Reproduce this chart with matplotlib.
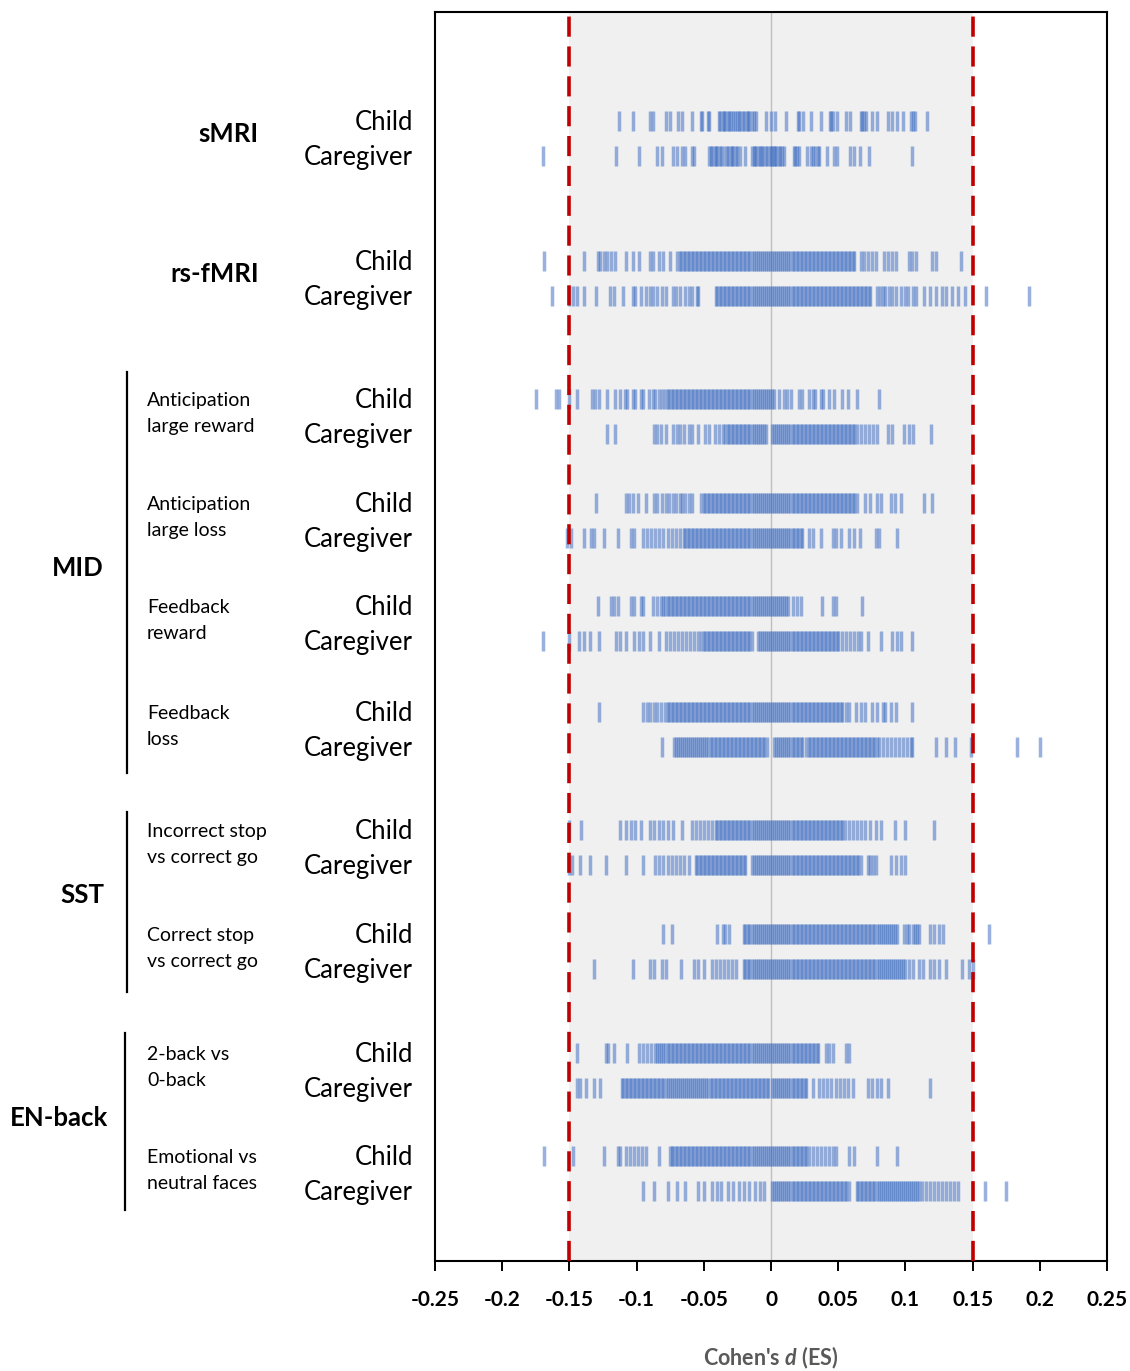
import matplotlib
matplotlib.use("Agg")
import matplotlib.pyplot as plt
from matplotlib.lines import Line2D

plt.rcParams['font.family'] = ['Lato', 'DejaVu Sans']
plt.rcParams['mathtext.fontset'] = 'custom'
plt.rcParams['mathtext.it'] = 'Lato:italic:bold'
plt.rcParams['mathtext.rm'] = 'Lato:bold'
plt.rcParams['lines.scale_dashes'] = False

# ---------------- data ----------------
modalities = ["sMRI", "rs-fMRI", "MID", "SST", "EN-back"]
contrasts = ["", "", "Anticipation\nlarge reward", "Anticipation\nlarge loss",
             "Feedback\nreward", "Feedback\nloss",
             "Incorrect stop\nvs correct go", "Correct stop\nvs correct go",
             "2-back vs\n0-back", "Emotional vs\nneutral faces"]
groups = ["Child", "Caregiver"]
threshold = [-0.15, 0.15]
xticks = [-0.25, -0.2, -0.15, -0.1, -0.05, 0, 0.05, 0.1, 0.15, 0.2, 0.25]
xtick_labels = ["-0.25", "-0.2", "-0.15", "-0.1", "-0.05", "0", "0.05", "0.1", "0.15", "0.2", "0.25"]

smri_child = [-0.113, -0.103, -0.090, -0.088, -0.078, -0.075, -0.069, -0.066, -0.059, -0.052, -0.051,
              -0.047, -0.046, -0.039, -0.038, -0.036, -0.035, -0.034, -0.032, -0.031, -0.030, -0.028,
              -0.027, -0.025, -0.024, -0.023, -0.021, -0.020, -0.018, -0.017, -0.016, -0.014, -0.013,
              -0.011, -0.004, 0.000, 0.003, 0.011, 0.020, 0.021, 0.024, 0.030, 0.037, 0.044, 0.045,
              0.046, 0.049, 0.056, 0.059, 0.067, 0.068, 0.069, 0.071, 0.075, 0.079, 0.087, 0.090,
              0.094, 0.098, 0.104, 0.106, 0.107, 0.116]
smri_caregiver = [-0.170, -0.115, -0.098, -0.085, -0.081, -0.073, -0.070, -0.066, -0.064, -0.059, -0.057,
                  -0.046, -0.045, -0.044, -0.042, -0.041, -0.040, -0.038, -0.037, -0.035, -0.033, -0.032,
                  -0.030, -0.029, -0.028, -0.026, -0.025, -0.023, -0.019, -0.014, -0.013, -0.012, -0.011,
                  -0.009, -0.008, -0.007, -0.006, -0.004, -0.003, -0.001, 0.000, 0.001, 0.002, 0.003,
                  0.004, 0.006, 0.007, 0.008, 0.010, 0.017, 0.018, 0.019, 0.021, 0.027, 0.030, 0.031,
                  0.033, 0.035, 0.036, 0.042, 0.047, 0.049, 0.059, 0.062, 0.066, 0.073, 0.105]
rsfmri_child = [-0.169, -0.139, -0.129, -0.127, -0.124, -0.122, -0.119, -0.116, -0.108, -0.103, -0.098,
                -0.090, -0.088, -0.083, -0.080, -0.075,
                -0.070, -0.068, -0.067, -0.065, -0.064, -0.062, -0.061, -0.059, -0.058, -0.056, -0.055,
                -0.053, -0.052, -0.050, -0.049, -0.047, -0.046, -0.044, -0.043, -0.041, -0.040, -0.038,
                -0.037, -0.035, -0.034, -0.032, -0.031, -0.029, -0.028, -0.026, -0.025, -0.023, -0.022,
                -0.020, -0.019, -0.017, -0.016, -0.014, -0.013, -0.011, -0.010, -0.008, -0.007, -0.005,
                -0.004, -0.002, -0.001, 0.001, 0.002, 0.004, 0.005, 0.007, 0.008, 0.010, 0.011, 0.013,
                0.014, 0.016, 0.017, 0.019, 0.020, 0.022, 0.023, 0.025, 0.026, 0.028, 0.029, 0.031,
                0.032, 0.034, 0.035, 0.037, 0.038, 0.040, 0.041, 0.043, 0.044, 0.046, 0.047, 0.049,
                0.050, 0.052, 0.053, 0.055, 0.056, 0.058, 0.059, 0.061, 0.062,
                0.067, 0.069, 0.072, 0.075, 0.078, 0.084, 0.087, 0.090, 0.093, 0.103, 0.105, 0.108,
                0.120, 0.123, 0.141]
rsfmri_caregiver = [-0.163, -0.150, -0.147, -0.144, -0.139, -0.130, -0.120, -0.117, -0.110, -0.103, -0.101,
                    -0.097, -0.093, -0.090, -0.088, -0.085, -0.081, -0.078, -0.073, -0.071, -0.068, -0.064,
                    -0.061, -0.059, -0.055, -0.054,
                    -0.041, -0.040, -0.038, -0.037, -0.035, -0.034, -0.032, -0.031, -0.029, -0.028, -0.026,
                    -0.025, -0.023, -0.022, -0.020, -0.019, -0.017, -0.016, -0.014, -0.013, -0.011, -0.010,
                    -0.008, -0.007, -0.005, -0.004, -0.002, -0.001, 0.001, 0.002, 0.004, 0.005, 0.007,
                    0.008, 0.010, 0.011, 0.013, 0.014, 0.016, 0.017, 0.019, 0.020, 0.022, 0.023, 0.025,
                    0.026, 0.028, 0.029, 0.031, 0.032, 0.034, 0.035, 0.037, 0.038, 0.040, 0.041, 0.043,
                    0.044, 0.046, 0.047, 0.049, 0.050, 0.052, 0.053, 0.055, 0.056, 0.058, 0.059, 0.061,
                    0.062, 0.064, 0.065, 0.067, 0.068, 0.070, 0.071, 0.073, 0.074,
                    0.079, 0.081, 0.083, 0.085, 0.088, 0.090, 0.093, 0.097, 0.100, 0.102, 0.106, 0.108,
                    0.114, 0.118, 0.123, 0.127, 0.130, 0.135, 0.139, 0.144, 0.160, 0.192]
antrew_child = [-0.175, -0.160, -0.158, -0.150, -0.144, -0.133, -0.131, -0.128, -0.122, -0.116, -0.112,
                -0.109, -0.107, -0.103, -0.101, -0.097, -0.095, -0.091, -0.088, -0.086, -0.083, -0.081,
                -0.079, -0.077, -0.076, -0.074, -0.073, -0.071, -0.070, -0.068, -0.067, -0.065, -0.064,
                -0.062, -0.061, -0.059, -0.058, -0.056, -0.055, -0.053, -0.052, -0.050, -0.049, -0.047,
                -0.046, -0.044, -0.043, -0.041, -0.040, -0.038, -0.037, -0.035, -0.034, -0.032, -0.031,
                -0.029, -0.028, -0.026, -0.025, -0.023, -0.022, -0.020, -0.019, -0.017, -0.016, -0.014,
                -0.013, -0.011, -0.010, -0.008, -0.007, -0.005, -0.004, -0.002, -0.001, 0.001, 0.002,
                0.006, 0.010, 0.012, 0.015, 0.021, 0.023, 0.028, 0.031, 0.033, 0.037, 0.039, 0.043,
                0.047, 0.053, 0.057, 0.064, 0.080]
antrew_caregiver = [-0.122, -0.116, -0.087, -0.085, -0.082, -0.078, -0.073, -0.070, -0.068, -0.065, -0.061,
                    -0.059, -0.054, -0.049, -0.046, -0.042, -0.039, -0.036, -0.034,
                    -0.032, -0.031, -0.029, -0.028, -0.026, -0.025, -0.023, -0.022, -0.020, -0.019, -0.017,
                    -0.016, -0.014, -0.013, -0.011, -0.010, -0.008, -0.007, -0.005, -0.004,
                    0.001, 0.002, 0.004, 0.005, 0.007, 0.008, 0.010, 0.011, 0.013, 0.014, 0.016, 0.017,
                    0.019, 0.020, 0.022, 0.023, 0.025, 0.026, 0.028, 0.029, 0.031, 0.032, 0.034, 0.035,
                    0.037, 0.038, 0.040, 0.041, 0.043, 0.044, 0.046, 0.047, 0.049, 0.050, 0.052, 0.053,
                    0.055, 0.056, 0.058, 0.059, 0.061, 0.062, 0.064, 0.067, 0.070, 0.073, 0.076, 0.079,
                    0.087, 0.090, 0.099, 0.103, 0.106, 0.119]
antloss_child = [-0.130, -0.108, -0.106, -0.103, -0.099, -0.093, -0.087, -0.085, -0.081, -0.078, -0.076,
                 -0.073, -0.071, -0.068, -0.066, -0.064, -0.061, -0.059,
                 -0.052, -0.050, -0.049, -0.047, -0.046, -0.044, -0.043, -0.041, -0.040, -0.038, -0.037,
                 -0.035, -0.034, -0.032, -0.031, -0.029, -0.028, -0.026, -0.025, -0.023, -0.022, -0.020,
                 -0.019, -0.017, -0.016, -0.014, -0.013, -0.011, -0.010, -0.008, -0.007, -0.005, -0.004,
                 -0.002, -0.001, 0.001, 0.002, 0.004, 0.005, 0.007, 0.008, 0.010, 0.011, 0.013, 0.014,
                 0.016, 0.017, 0.019, 0.020, 0.022, 0.023, 0.025, 0.026, 0.028, 0.029, 0.031, 0.032,
                 0.034, 0.035, 0.037, 0.038, 0.040, 0.041, 0.043, 0.044, 0.046, 0.047, 0.049, 0.050,
                 0.052, 0.053, 0.055, 0.056, 0.058, 0.059, 0.061, 0.062, 0.064,
                 0.070, 0.074, 0.079, 0.082, 0.089, 0.092, 0.097, 0.114, 0.120]
antloss_caregiver = [-0.152, -0.149, -0.139, -0.134, -0.132, -0.124, -0.114, -0.104, -0.102,
                     -0.095, -0.092, -0.089, -0.086, -0.083, -0.080, -0.077, -0.074, -0.071, -0.068,
                     -0.065, -0.064, -0.062, -0.061, -0.059, -0.058, -0.056, -0.055, -0.053, -0.052, -0.050,
                     -0.049, -0.047, -0.046, -0.044, -0.043, -0.041, -0.040, -0.038, -0.037, -0.035, -0.034,
                     -0.032, -0.031, -0.029, -0.028, -0.026, -0.025, -0.023, -0.022, -0.020, -0.019, -0.017,
                     -0.016, -0.014, -0.013, -0.011, -0.010, -0.008, -0.007, -0.005, -0.004, -0.002, -0.001,
                     0.001, 0.002, 0.004, 0.005, 0.007, 0.008, 0.010, 0.011, 0.013, 0.014, 0.016, 0.017,
                     0.019, 0.020, 0.022, 0.023,
                     0.028, 0.031, 0.037, 0.046, 0.048, 0.052, 0.058, 0.062, 0.066, 0.078, 0.080, 0.094]
fbrew_child = [-0.129, -0.119, -0.117, -0.114, -0.104, -0.102, -0.097, -0.095, -0.088, -0.085, -0.082,
               -0.080, -0.079, -0.077, -0.076, -0.074, -0.073, -0.071, -0.070, -0.068, -0.067, -0.065,
               -0.064, -0.062, -0.061, -0.059, -0.058, -0.056, -0.055, -0.053, -0.052, -0.050, -0.049,
               -0.047, -0.046, -0.044, -0.043, -0.041, -0.040, -0.038, -0.037, -0.035, -0.034, -0.032,
               -0.031, -0.029, -0.028, -0.026, -0.025, -0.023, -0.022, -0.020, -0.019, -0.017, -0.016,
               -0.014, -0.013, -0.011, -0.010, -0.008, -0.007, -0.005, -0.004, -0.002, -0.001, 0.001,
               0.002, 0.004, 0.005, 0.007, 0.008, 0.010, 0.011, 0.013, 0.016, 0.019, 0.022,
               0.038, 0.046, 0.048, 0.068]
fbrew_caregiver = [-0.170, -0.150, -0.143, -0.139, -0.135, -0.128, -0.115, -0.112, -0.108, -0.102, -0.098,
                   -0.095, -0.090, -0.083, -0.078, -0.075, -0.072, -0.069, -0.066, -0.063, -0.060, -0.057,
                   -0.054, -0.052, -0.050, -0.049, -0.047, -0.046, -0.044, -0.043, -0.041, -0.040, -0.038,
                   -0.037, -0.035, -0.034, -0.032, -0.031, -0.029, -0.028, -0.026, -0.025, -0.023, -0.022,
                   -0.020, -0.019, -0.017, -0.016, -0.014, -0.010, -0.008, -0.007, -0.005, -0.004, -0.002,
                   -0.001, 0.001, 0.002, 0.004, 0.005, 0.007, 0.008, 0.010, 0.011, 0.013, 0.014, 0.016,
                   0.017, 0.019, 0.020, 0.022, 0.023, 0.025, 0.026, 0.028, 0.029, 0.031, 0.032, 0.034,
                   0.035, 0.037, 0.038, 0.040, 0.041, 0.043, 0.044, 0.046, 0.047, 0.049, 0.050, 0.053,
                   0.056, 0.059, 0.062, 0.065, 0.067, 0.072, 0.082, 0.090, 0.094, 0.097, 0.105]
fbloss_child = [-0.128, -0.095, -0.092, -0.090, -0.087, -0.085,
                -0.082, -0.079, -0.077, -0.076, -0.074, -0.073, -0.071, -0.070, -0.068, -0.067, -0.065,
                -0.064, -0.062, -0.061, -0.059, -0.058, -0.056, -0.055, -0.053, -0.052, -0.050, -0.049,
                -0.047, -0.046, -0.044, -0.043, -0.041, -0.040, -0.038, -0.037, -0.035, -0.034, -0.032,
                -0.031, -0.029, -0.028, -0.026, -0.025, -0.023, -0.022, -0.020, -0.019, -0.017, -0.016,
                -0.014, -0.013, -0.011, -0.010, -0.008, -0.007, -0.005, -0.004, -0.002, -0.001, 0.001,
                0.002, 0.004, 0.005, 0.007, 0.008, 0.010, 0.011, 0.013, 0.014, 0.016, 0.017, 0.019,
                0.020, 0.022, 0.023, 0.025, 0.026, 0.028, 0.029, 0.031, 0.032, 0.034, 0.035, 0.037,
                0.038, 0.040, 0.041, 0.043, 0.044, 0.046, 0.047, 0.049, 0.050, 0.052, 0.053, 0.056,
                0.058, 0.063, 0.067, 0.070, 0.075, 0.079, 0.083, 0.085, 0.089, 0.093, 0.105]
fbloss_caregiver = [-0.081,
                    -0.072, -0.071, -0.069, -0.068, -0.066, -0.065, -0.063, -0.062, -0.060, -0.059, -0.057,
                    -0.056, -0.054, -0.053, -0.051, -0.050, -0.048, -0.047, -0.045, -0.044, -0.042, -0.041,
                    -0.039, -0.038, -0.036, -0.035, -0.033, -0.032, -0.030, -0.029, -0.027, -0.026, -0.024,
                    -0.023, -0.021, -0.020, -0.018, -0.017, -0.015, -0.014, -0.012, -0.011, -0.009, -0.008,
                    -0.006, -0.005, -0.003,
                    0.002, 0.004, 0.005, 0.007, 0.008, 0.010, 0.011, 0.013, 0.014, 0.016, 0.017, 0.019,
                    0.020, 0.022, 0.023, 0.026, 0.028, 0.029, 0.031, 0.032, 0.034, 0.035, 0.037, 0.038,
                    0.040, 0.041, 0.043, 0.044, 0.046, 0.047, 0.049, 0.050, 0.052, 0.053, 0.055, 0.056,
                    0.058, 0.059, 0.061, 0.062, 0.064, 0.065, 0.067, 0.068, 0.070, 0.071, 0.073, 0.074,
                    0.076, 0.077, 0.079, 0.080, 0.083, 0.086, 0.089, 0.092, 0.095, 0.098, 0.101, 0.104,
                    0.105, 0.123, 0.130, 0.137, 0.149, 0.183, 0.200]
incstop_child = [-0.150, -0.141, -0.112, -0.108, -0.104, -0.101, -0.097, -0.090, -0.087, -0.083, -0.080,
                 -0.077, -0.073, -0.066, -0.059, -0.056, -0.053, -0.050, -0.047, -0.044, -0.041,
                 -0.040, -0.038, -0.037, -0.035, -0.034, -0.032, -0.031, -0.029, -0.028, -0.026, -0.025,
                 -0.023, -0.022, -0.020, -0.019, -0.017, -0.016, -0.014, -0.013, -0.011, -0.010, -0.008,
                 -0.007, -0.005, -0.004, -0.002, -0.001, 0.001, 0.002, 0.004, 0.005, 0.007, 0.008, 0.010,
                 0.011, 0.013, 0.014, 0.016, 0.017, 0.019, 0.020, 0.022, 0.023, 0.025, 0.026, 0.028,
                 0.029, 0.031, 0.032, 0.034, 0.035, 0.037, 0.038, 0.040, 0.041, 0.043, 0.044, 0.046,
                 0.047, 0.049, 0.050, 0.052, 0.053, 0.055, 0.058, 0.061, 0.064, 0.067, 0.070,
                 0.074, 0.078, 0.082, 0.092, 0.100, 0.121]
incstop_caregiver = [-0.150, -0.148, -0.142, -0.135, -0.123, -0.108, -0.095, -0.086, -0.083, -0.080, -0.077,
                     -0.074, -0.071, -0.068, -0.065, -0.061,
                     -0.056, -0.055, -0.053, -0.052, -0.050, -0.049, -0.047, -0.046, -0.044, -0.043, -0.041,
                     -0.040, -0.038, -0.037, -0.035, -0.034, -0.032, -0.031, -0.029, -0.028, -0.026, -0.025,
                     -0.023, -0.022, -0.020, -0.019, -0.014, -0.013, -0.011, -0.010, -0.008, -0.007, -0.005,
                     -0.004, -0.002, -0.001, 0.001, 0.002, 0.004, 0.005, 0.007, 0.008, 0.010, 0.011, 0.013,
                     0.014, 0.016, 0.017, 0.019, 0.020, 0.022, 0.023, 0.025, 0.026, 0.028, 0.029, 0.031,
                     0.032, 0.034, 0.035, 0.037, 0.038, 0.040, 0.041, 0.043, 0.044, 0.046, 0.047, 0.049,
                     0.050, 0.052, 0.053, 0.055, 0.056, 0.058, 0.059, 0.061, 0.062, 0.064, 0.065, 0.067,
                     0.072, 0.074, 0.076, 0.078, 0.089, 0.093, 0.097, 0.100]
corstop_child = [-0.080, -0.074, -0.040, -0.036, -0.034, -0.031,
                 -0.020, -0.019, -0.017, -0.016, -0.014, -0.013, -0.011, -0.010, -0.008, -0.007, -0.005,
                 -0.004, -0.002, -0.001, 0.001, 0.002, 0.004, 0.005, 0.007, 0.008, 0.010, 0.011, 0.013,
                 0.014, 0.016, 0.017, 0.019, 0.020, 0.022, 0.023, 0.025, 0.026, 0.028, 0.029, 0.031,
                 0.032, 0.034, 0.035, 0.037, 0.038, 0.040, 0.041, 0.043, 0.044, 0.046, 0.047, 0.049,
                 0.050, 0.052, 0.053, 0.055, 0.056, 0.058, 0.059, 0.061, 0.062, 0.064, 0.065, 0.067,
                 0.068, 0.070, 0.071, 0.073, 0.074, 0.076, 0.077, 0.079, 0.080, 0.082, 0.083, 0.085,
                 0.086, 0.088, 0.089, 0.091, 0.092, 0.094, 0.099, 0.101, 0.103, 0.106, 0.107, 0.109,
                 0.110, 0.118, 0.121, 0.125, 0.128, 0.162]
corstop_caregiver = [-0.132, -0.103, -0.090, -0.087, -0.081, -0.078, -0.067, -0.057, -0.054, -0.050,
                     -0.044, -0.041, -0.038, -0.035, -0.032, -0.029, -0.026,
                     -0.020, -0.019, -0.017, -0.016, -0.014, -0.013, -0.011, -0.010, -0.008, -0.007, -0.005,
                     -0.004, -0.002, -0.001, 0.001, 0.002, 0.004, 0.005, 0.007, 0.008, 0.010, 0.011, 0.013,
                     0.014, 0.016, 0.017, 0.019, 0.020, 0.022, 0.023, 0.025, 0.026, 0.028, 0.029, 0.031,
                     0.032, 0.034, 0.035, 0.037, 0.038, 0.040, 0.041, 0.043, 0.044, 0.046, 0.047, 0.049,
                     0.050, 0.052, 0.053, 0.055, 0.056, 0.058, 0.059, 0.061, 0.062, 0.064, 0.065, 0.067,
                     0.068, 0.070, 0.071, 0.073, 0.074, 0.076, 0.077, 0.079, 0.080, 0.082, 0.083, 0.085,
                     0.086, 0.088, 0.089, 0.091, 0.092, 0.094, 0.095, 0.097, 0.098, 0.100, 0.103, 0.106,
                     0.110, 0.113, 0.118, 0.121, 0.125, 0.130, 0.142, 0.147, 0.150]
nback_child = [-0.144, -0.123, -0.121, -0.117, -0.107, -0.098, -0.095, -0.092, -0.089, -0.086,
               -0.085, -0.083, -0.082, -0.080, -0.079, -0.077, -0.076, -0.074, -0.073, -0.071, -0.070,
               -0.068, -0.067, -0.065, -0.064, -0.062, -0.061, -0.059, -0.058, -0.056, -0.055, -0.053,
               -0.052, -0.050, -0.049, -0.047, -0.046, -0.044, -0.043, -0.041, -0.040, -0.038, -0.037,
               -0.035, -0.034, -0.032, -0.031, -0.029, -0.028, -0.026, -0.025, -0.023, -0.022, -0.020,
               -0.019, -0.017, -0.016, -0.014, -0.013, -0.011, -0.010, -0.008, -0.007, -0.005, -0.004,
               -0.002, -0.001, 0.001, 0.002, 0.004, 0.005, 0.007, 0.008, 0.010, 0.011, 0.013, 0.014,
               0.016, 0.017, 0.019, 0.020, 0.022, 0.023, 0.025, 0.026, 0.028, 0.029, 0.031, 0.032,
               0.034, 0.035, 0.041, 0.043, 0.046, 0.056, 0.058]
nback_caregiver = [-0.144, -0.142, -0.138, -0.132, -0.127,
                   -0.111, -0.110, -0.108, -0.107, -0.105, -0.104, -0.102, -0.101, -0.099, -0.098, -0.096,
                   -0.095, -0.093, -0.092, -0.090, -0.089, -0.087, -0.086, -0.084, -0.083, -0.081, -0.080,
                   -0.078, -0.077, -0.075, -0.074, -0.072, -0.071, -0.069, -0.068, -0.066, -0.065, -0.063,
                   -0.062, -0.060, -0.059, -0.057, -0.056, -0.054, -0.053, -0.051, -0.050, -0.048, -0.047,
                   -0.045, -0.044, -0.042, -0.041, -0.039, -0.038, -0.036, -0.035, -0.033, -0.032, -0.030,
                   -0.029, -0.027, -0.026, -0.024, -0.023, -0.021, -0.020, -0.018, -0.017, -0.015, -0.014,
                   -0.012, -0.011, -0.009, -0.008, -0.006, -0.005, -0.003, -0.002, 0.001, 0.002, 0.004,
                   0.005, 0.007, 0.008, 0.010, 0.011, 0.013, 0.014, 0.016, 0.017, 0.019, 0.020, 0.022,
                   0.023, 0.025, 0.026, 0.031, 0.036, 0.039, 0.042, 0.045, 0.048, 0.051, 0.054, 0.057,
                   0.061, 0.072, 0.075, 0.079, 0.082, 0.087, 0.118]
emo_child = [-0.169, -0.147, -0.124, -0.114, -0.112, -0.108, -0.105, -0.102, -0.099, -0.096, -0.093,
             -0.083, -0.075, -0.074, -0.073, -0.071, -0.070, -0.068, -0.067, -0.065, -0.064, -0.062,
             -0.061, -0.059, -0.058, -0.056, -0.055, -0.053, -0.052, -0.050, -0.049, -0.047, -0.046,
             -0.044, -0.043, -0.041, -0.040, -0.038, -0.037, -0.035, -0.034, -0.032, -0.031, -0.029,
             -0.028, -0.026, -0.025, -0.023, -0.022, -0.020, -0.019, -0.017, -0.016, -0.014, -0.013,
             -0.011, -0.010, -0.008, -0.007, -0.005, -0.004, -0.002, -0.001, 0.001, 0.002, 0.004,
             0.005, 0.007, 0.008, 0.010, 0.011, 0.013, 0.014, 0.016, 0.017, 0.019, 0.020, 0.022,
             0.023, 0.025, 0.026, 0.028, 0.031, 0.034, 0.037, 0.040, 0.043, 0.046, 0.048,
             0.058, 0.062, 0.079, 0.094]
emo_caregiver = [-0.095, -0.087, -0.077, -0.070, -0.064, -0.054, -0.050, -0.044, -0.040, -0.037, -0.032,
                 -0.028, -0.024, -0.020, -0.016, -0.012, -0.008, -0.005,
                 0.001, 0.002, 0.004, 0.005, 0.007, 0.008, 0.010, 0.011, 0.013, 0.014, 0.016, 0.017,
                 0.019, 0.020, 0.022, 0.023, 0.025, 0.026, 0.028, 0.029, 0.031, 0.032, 0.034, 0.035,
                 0.037, 0.038, 0.040, 0.041, 0.043, 0.044, 0.046, 0.047, 0.049, 0.050, 0.052, 0.053,
                 0.055, 0.056, 0.058, 0.064, 0.065, 0.067, 0.068, 0.070, 0.071, 0.073, 0.074, 0.076,
                 0.077, 0.079, 0.080, 0.082, 0.083, 0.085, 0.086, 0.088, 0.089, 0.091, 0.092, 0.094,
                 0.095, 0.097, 0.098, 0.100, 0.101, 0.103, 0.104, 0.106, 0.107, 0.109, 0.110, 0.112,
                 0.115, 0.118, 0.121, 0.124, 0.127, 0.130, 0.133, 0.136, 0.139, 0.159, 0.175]

series = [smri_child, smri_caregiver, rsfmri_child, rsfmri_caregiver,
          antrew_child, antrew_caregiver, antloss_child, antloss_caregiver,
          fbrew_child, fbrew_caregiver, fbloss_child, fbloss_caregiver,
          incstop_child, incstop_caregiver, corstop_child, corstop_caregiver,
          nback_child, nback_caregiver, emo_child, emo_caregiver]

# ---------------- layout (pixel rows of the 1130x1371 canvas) ----------------
W, H = 1130, 1371
child_rows = [121, 261, 399, 503, 606, 712, 830, 934, 1053, 1156]
row_gap = 35

fig = plt.figure(figsize=(W / 100, H / 100), dpi=100)
ax = fig.add_axes([435 / W, 1 - 1261 / H, (1107 - 435) / W, (1261 - 12) / H])
ax.set_xlim(-0.25, 0.25)
ax.set_ylim(1261, 12)

ax.axvspan(threshold[0], threshold[1], color='#f0f0f0', zorder=0, lw=0)
ax.axvline(0, color='#bfbfbf', lw=1.0, zorder=1)

for i, vals in enumerate(series):
    y = child_rows[i // 2] + (i % 2) * row_gap
    ax.vlines(vals, y - 10, y + 10, color='#4472c4', alpha=0.55, lw=2.5, zorder=2)

for t in threshold:
    ax.axvline(t, color='#c00000', lw=2.6, linestyle=(0, (14.5, 7.0)), zorder=3)

ax.set_xticks(xticks)
ax.set_xticklabels(xtick_labels, fontsize=15, fontweight='bold')
ax.set_yticks([])
ax.tick_params(axis='x', direction='out', length=7, width=1.4, pad=14, colors='black')
for s in ax.spines.values():
    s.set_linewidth(1.5)
    s.set_color('black')


def fy(y):
    return 1 - y / H


# group labels Child / Caregiver
for cy in child_rows:
    for j, g in enumerate(groups):
        y = cy + j * row_gap
        fig.text(413 / W, fy(y + 9), g, ha='right', va='baseline', fontsize=18.5)

# contrast labels
for cy, c in zip(child_rows, contrasts):
    if c:
        l1, l2 = c.split("\n")
        fig.text(147 / W, fy(cy + 7), l1, ha='left', va='baseline', fontsize=14)
        fig.text(147 / W, fy(cy + 33), l2, ha='left', va='baseline', fontsize=14)

# modality labels
mod_spans = [(0, 0), (1, 1), (2, 5), (6, 7), (8, 9)]
mod_right = [259, 259, 104, 104, 108]
for m, (a, b), xr in zip(modalities, mod_spans, mod_right):
    mid = (child_rows[a] + child_rows[b] + row_gap) / 2
    fig.text(xr / W, fy(mid + 3.5), m, ha='right', va='baseline', fontsize=18.5, fontweight='bold')

# bracket lines
for x0, y0, y1 in [(127, 372, 773), (127, 812, 992), (125, 1033, 1210)]:
    fig.add_artist(Line2D([x0 / W, x0 / W], [fy(y0), fy(y1)], color='black', lw=1.6))

fig.text(771 / W, fy(1358), r"Cohen's $d$ (ES)", ha='center', va='center',
         fontsize=15.5, fontweight='bold', color='#595959')

fig.savefig("out.png", dpi=100)
